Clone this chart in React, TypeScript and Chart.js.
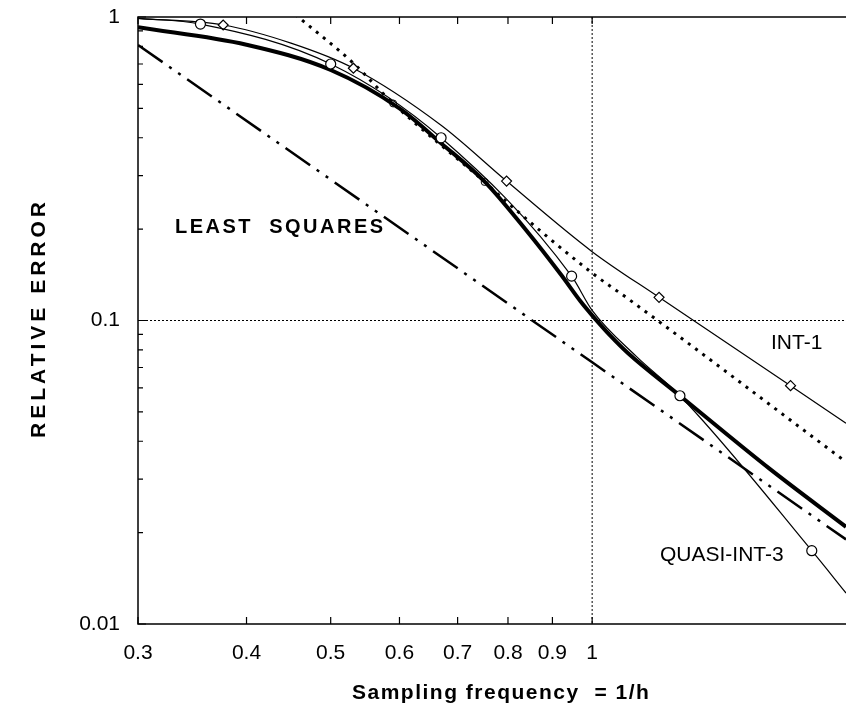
import React, { useEffect, useRef } from "react";
import { Chart, registerables } from "chart.js";

Chart.register(...registerables);

// ---- data (log-log axes) ----
const xTickValues = [0.3, 0.4, 0.5, 0.6, 0.7, 0.8, 0.9, 1];
const yTickValues = [0.01, 0.1, 1];

const thickX = [0.3, 0.4, 0.5, 0.6, 0.67, 0.752, 0.84, 0.92, 0.97, 1.0, 1.05, 1.1, 1.262, 1.6, 1.96];
const thickY = [0.925, 0.81, 0.669, 0.5, 0.384, 0.287, 0.198, 0.142, 0.1155, 0.104, 0.089, 0.078, 0.0565, 0.0325, 0.0209];

const quasiX = [0.3, 0.354, 0.5, 0.67, 0.947, 1.0, 1.125, 1.262, 1.79, 1.96];
const quasiY = [0.99, 0.948, 0.7, 0.4, 0.14, 0.108, 0.076, 0.0565, 0.01744, 0.01265];
const quasiMarked = [false, true, true, true, true, false, false, true, true, false];

const int1X = [0.3, 0.376, 0.45, 0.531, 0.67, 0.797, 1.0, 1.194, 1.692, 1.96];
const int1Y = [0.99, 0.941, 0.82, 0.678, 0.44, 0.288, 0.1686, 0.1192, 0.061, 0.0459];
const int1Marked = [false, true, false, true, false, true, false, true, true, false];

const dottedX = [0.455, 0.531, 0.59, 0.752, 0.797, 1.0, 1.105, 1.96];
const dottedY = [1.02, 0.704, 0.519, 0.286, 0.246, 0.1434, 0.1168, 0.0342];
const dottedMarked = [false, false, true, true, false, false, false, false];

const lsqX = [0.3, 1.0, 1.96];
const lsqY = [0.809, 0.0728, 0.019];

const seriesLabels = ["LEAST  SQUARES", "INT-1", "QUASI-INT-3"];
const xTitle = "Sampling frequency  = 1/h";
const yTitle = "RELATIVE ERROR";

const FONT = "'Liberation Sans', Arial, Helvetica, sans-serif";

const toPts = (xs: number[], ys: number[]) => xs.map((x, i) => ({ x, y: ys[i] }));

const decorPlugin = {
  id: "decor",
  beforeDatasetsDraw(chart: any) {
    const { ctx, chartArea: a, scales } = chart;
    const xs = scales.x, ys = scales.y;
    ctx.save();
    ctx.strokeStyle = "#000";
    ctx.lineWidth = 1;
    ctx.setLineDash([2, 2]);
    const gx = xs.getPixelForValue(1);
    ctx.beginPath();
    ctx.moveTo(gx, a.top);
    ctx.lineTo(gx, a.bottom);
    const gy = ys.getPixelForValue(0.1);
    ctx.moveTo(a.left, gy);
    ctx.lineTo(a.right, gy);
    ctx.stroke();
    ctx.restore();
  },
  afterDatasetsDraw(chart: any) {
    const { ctx, chartArea: a, scales } = chart;
    const xs = scales.x, ys = scales.y;
    ctx.save();
    ctx.strokeStyle = "#000";
    ctx.lineWidth = 1.5;
    ctx.setLineDash([]);
    ctx.beginPath();
    ctx.moveTo(a.right, a.top);
    ctx.lineTo(a.left, a.top);
    ctx.lineTo(a.left, a.bottom);
    ctx.lineTo(a.right, a.bottom);
    ctx.stroke();
    ctx.lineWidth = 1.2;
    ctx.beginPath();
    xTickValues.forEach((v) => {
      const px = xs.getPixelForValue(v);
      ctx.moveTo(px, a.bottom);
      ctx.lineTo(px, a.bottom - 7);
      ctx.moveTo(px, a.top);
      ctx.lineTo(px, a.top + 7);
    });
    [0.01, 0.1].forEach((d) => {
      for (let k = 1; k <= 10; k++) {
        const v = d * k;
        const py = ys.getPixelForValue(v);
        const len = k === 1 || k === 10 ? 8 : 5;
        ctx.moveTo(a.left, py);
        ctx.lineTo(a.left + len, py);
      }
    });
    ctx.stroke();

    ctx.fillStyle = "#000";
    ctx.textBaseline = "middle";
    ctx.textAlign = "left";
    ctx.font = `bold 20px ${FONT}`;
    (ctx as any).letterSpacing = "2.5px";
    ctx.fillText(seriesLabels[0], 175, 227);
    (ctx as any).letterSpacing = "0px";
    ctx.font = `21px ${FONT}`;
    ctx.fillText(seriesLabels[1], 771, 343);
    ctx.fillText(seriesLabels[2], 660, 555);

    ctx.font = `bold 21px ${FONT}`;
    (ctx as any).letterSpacing = "1.5px";
    ctx.fillText(xTitle, 352, 693);
    ctx.save();
    ctx.translate(39, 318);
    ctx.rotate(-Math.PI / 2);
    ctx.textAlign = "center";
    (ctx as any).letterSpacing = "4px";
    ctx.fillText(yTitle, 0, 0);
    ctx.restore();
    (ctx as any).letterSpacing = "0px";
    ctx.restore();
  },
};

export default function App() {
  const ref = useRef<HTMLCanvasElement | null>(null);
  useEffect(() => {
    if (!ref.current) return;
    const radius = (marked: boolean[], r: number) => (c: any) => (marked[c.dataIndex] ? r : 0);
    const chart = new Chart(ref.current, {
      type: "line",
      data: {
        datasets: [
          {
            label: "QUASI-INT-3",
            data: toPts(quasiX, quasiY),
            borderColor: "#000",
            borderWidth: 1.2,
            pointStyle: "circle",
            pointRadius: radius(quasiMarked, 5),
            pointBackgroundColor: "#fff",
            pointBorderColor: "#000",
            pointBorderWidth: 1.2,
            cubicInterpolationMode: "monotone",
            order: 1,
          },
          {
            label: "INT-1",
            data: toPts(int1X, int1Y),
            borderColor: "#000",
            borderWidth: 1.2,
            pointStyle: "rectRot",
            pointRadius: radius(int1Marked, 5),
            pointBackgroundColor: "#fff",
            pointBorderColor: "#000",
            pointBorderWidth: 1.2,
            cubicInterpolationMode: "monotone",
            order: 2,
          },
          {
            label: "thick",
            data: toPts(thickX, thickY),
            borderColor: "#000",
            borderWidth: 4,
            pointRadius: 0,
            cubicInterpolationMode: "monotone",
            order: 3,
          },
          {
            label: "dotted",
            data: toPts(dottedX, dottedY),
            borderColor: "#000",
            borderWidth: 3,
            borderDash: [3, 6],
            pointStyle: "circle",
            pointRadius: radius(dottedMarked, 3.5),
            pointBackgroundColor: "#fff",
            pointBorderColor: "#000",
            pointBorderWidth: 1,
            cubicInterpolationMode: "monotone",
            order: 4,
          },
          {
            label: "LEAST SQUARES",
            data: toPts(lsqX, lsqY),
            borderColor: "#000",
            borderWidth: 2.5,
            borderDash: [30, 8, 3, 8, 3, 8],
            pointRadius: 0,
            order: 5,
          },
        ],
      },
      options: {
        animation: false,
        responsive: false,
        devicePixelRatio: 1,
        layout: { padding: { top: 17, right: 0, left: 0, bottom: 0 } },
        plugins: { legend: { display: false }, tooltip: { enabled: false } },
        scales: {
          x: {
            type: "logarithmic",
            min: 0.3,
            max: 1.96,
            afterBuildTicks: (s: any) => {
              s.ticks = xTickValues.map((v) => ({ value: v }));
            },
            afterFit: (s: any) => {
              s.height = 87;
              s.paddingLeft = 0;
              s.paddingRight = 0;
            },
            grid: { display: false, drawTicks: false },
            border: { display: false },
            ticks: {
              autoSkip: false,
              maxRotation: 0,
              padding: 17,
              color: "#000",
              font: { family: FONT, size: 21 },
              callback: (v: any) => String(v),
            },
          },
          y: {
            type: "logarithmic",
            min: 0.01,
            max: 1,
            afterBuildTicks: (s: any) => {
              s.ticks = yTickValues.map((v) => ({ value: v }));
            },
            afterFit: (s: any) => {
              s.width = 138;
              s.paddingTop = 0;
              s.paddingBottom = 0;
            },
            grid: { display: false, drawTicks: false },
            border: { display: false },
            ticks: {
              padding: 18,
              color: "#000",
              font: { family: FONT, size: 21 },
              callback: (v: any) => String(v),
            },
          },
        },
      },
      plugins: [decorPlugin],
    } as any);
    return () => chart.destroy();
  }, []);
  return (
    <div style={{ position: "fixed", left: 0, top: 0, width: 846, height: 711, background: "#fff" }}>
      <canvas ref={ref} width={846} height={711} style={{ width: 846, height: 711 }} />
    </div>
  );
}
